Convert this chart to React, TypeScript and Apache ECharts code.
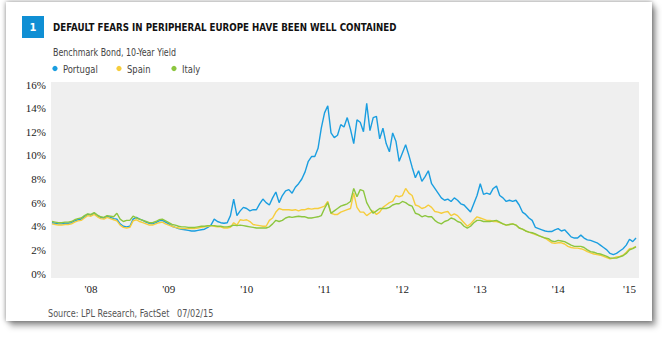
import React, { useEffect, useRef } from "react";
import * as echarts from "echarts";

// ---- data (semi-monthly readings, Jan 2008 .. Jul 2015) ----
const startYear = 2008;
const stepsPerYear = 24;

const portugal = [
  // 2008
  4.3, 4.25, 4.2, 4.2, 4.25, 4.25, 4.3, 4.45, 4.55, 4.6, 4.8, 5.0, 4.95, 5.1, 4.9, 4.75, 4.7, 4.85, 4.75, 4.65, 4.6, 4.2, 4.0, 3.95,
  // 2009
  4.0, 4.6, 4.75, 4.6, 4.5, 4.35, 4.25, 4.2, 4.3, 4.45, 4.5, 4.35, 4.2, 4.0, 3.9, 3.8, 3.75, 3.7, 3.65, 3.6, 3.6, 3.65, 3.7, 3.75,
  // 2010
  3.9, 4.1, 4.6, 4.4, 4.3, 4.25, 4.3, 4.9, 6.3, 4.9, 5.3, 5.6, 5.5, 5.3, 5.4, 5.4, 5.9, 6.3, 6.0, 5.8, 6.4, 6.9, 6.0, 6.6,
  // 2011
  7.0, 7.1, 6.8, 7.3, 7.6, 8.0, 8.6, 9.5, 9.9, 9.9, 10.6, 12.3, 13.6, 14.2, 11.9, 11.5, 11.7, 12.6, 12.4, 13.2, 12.2, 11.0, 13.0, 12.8,
  // 2012
  12.0, 14.4, 12.1, 13.2, 13.3, 11.4, 12.3, 11.0, 10.3, 11.9, 11.2, 9.5, 10.2, 10.9, 10.0, 9.0, 8.1, 8.7, 7.8, 8.2, 8.7, 7.6, 7.2, 6.8,
  // 2013
  6.4, 6.2, 6.3, 6.1, 6.4, 6.2, 5.9, 5.8, 5.5, 5.2, 5.9, 6.6, 7.6, 6.7, 6.8, 6.7, 7.2, 7.4, 6.6, 6.4, 6.1, 6.2, 6.1, 6.2,
  // 2014
  5.8, 5.2, 5.0, 4.7, 4.5, 3.9, 3.8, 3.7, 3.6, 3.55, 3.55, 3.7, 3.8, 3.6, 3.7, 3.4, 3.1, 3.0, 3.0, 3.25, 3.0, 2.85, 2.8, 2.7,
  // 2015
  2.6, 2.4, 2.2, 2.0, 1.7, 1.6, 1.7, 1.9, 2.1, 2.4, 2.9, 2.7, 3.0,
];

const spain = [
  4.2, 4.15, 4.1, 4.1, 4.15, 4.15, 4.2, 4.35, 4.45, 4.5, 4.7, 4.9, 4.85, 5.0, 4.8, 4.65, 4.6, 4.75, 4.65, 4.55, 4.45, 4.1, 3.9, 3.85,
  3.9, 4.45, 4.55, 4.4, 4.3, 4.2, 4.1, 4.1, 4.2, 4.3, 4.35, 4.2, 4.1, 4.0, 3.9, 3.85, 3.8, 3.8, 3.8, 3.8, 3.8, 3.85, 3.9, 3.95,
  4.0, 4.05, 4.0, 3.95, 3.95, 3.85, 3.85, 3.9, 4.3, 4.1, 4.55, 4.5, 4.55, 4.4, 4.15, 4.1, 4.05, 4.0, 4.0, 4.5, 4.7, 5.2, 5.5, 5.4,
  5.4, 5.4, 5.35, 5.4, 5.3, 5.4, 5.4, 5.5, 5.45, 5.5, 5.5, 5.6, 5.7, 6.1, 5.1, 5.0, 5.0, 5.2, 5.3, 5.4, 5.5, 6.8, 5.6, 5.2,
  5.2, 4.9, 5.1, 5.3, 5.0, 5.2, 5.6, 5.8, 6.0, 6.1, 6.6, 6.5, 6.6, 7.2, 6.8, 6.6, 5.8, 5.7, 5.5, 5.6, 5.8, 5.6, 5.25, 5.2,
  5.1, 5.2, 5.25, 4.9, 5.05, 4.9, 4.6, 4.3, 4.0, 4.2, 4.5, 4.8, 4.7, 4.6, 4.5, 4.5, 4.4, 4.4, 4.3, 4.2, 4.1, 4.15, 4.2, 4.1,
  3.85, 3.75, 3.6, 3.5, 3.4, 3.3, 3.2, 3.1, 3.0, 2.8, 2.6, 2.55, 2.6, 2.6, 2.5, 2.3, 2.2, 2.15, 2.15, 2.1, 2.0, 1.85, 1.75, 1.65,
  1.6, 1.55, 1.45, 1.35, 1.25, 1.3, 1.4, 1.45, 1.55, 1.8, 2.1, 2.15, 2.3,
];

const italy = [
  4.4, 4.35, 4.3, 4.3, 4.35, 4.35, 4.4, 4.55, 4.65, 4.7, 4.9, 5.05, 5.0, 5.15, 4.95, 4.8, 4.75, 4.9, 4.85, 4.8, 5.1, 4.6, 4.4, 4.5,
  4.5, 4.85, 4.7, 4.6, 4.5, 4.4, 4.3, 4.3, 4.4, 4.55, 4.6, 4.45, 4.3, 4.15, 4.1, 4.0, 3.95, 3.95, 3.9, 3.9, 3.9, 3.95, 4.0, 4.0,
  4.05, 4.05, 4.05, 4.0, 4.0, 3.95, 3.95, 4.0, 4.1, 4.05, 4.1, 4.05, 4.0, 3.95, 3.9, 3.85, 3.85, 3.85, 3.85, 3.95, 4.2, 4.5, 4.4, 4.5,
  4.7, 4.8, 4.75, 4.8, 4.85, 4.8, 4.8, 4.7, 4.7, 4.75, 4.8, 4.9, 5.5, 6.0, 5.1, 5.3, 5.5, 5.7, 5.8, 5.9, 6.1, 7.2, 6.5, 7.1,
  7.0, 6.0, 5.5, 5.1, 5.3, 5.5, 5.5, 5.5, 5.6, 5.8, 5.9, 5.9, 6.1, 6.0, 5.8, 5.7, 5.1, 5.0, 4.8, 4.9, 4.8, 4.8, 4.5, 4.3,
  4.2, 4.4, 4.5, 4.7, 4.6, 4.4, 4.3, 4.0, 3.85, 4.0, 4.3, 4.5, 4.5, 4.4, 4.4, 4.4, 4.45, 4.5, 4.35, 4.2, 4.1, 4.15, 4.2, 4.1,
  3.85, 3.75, 3.6, 3.5, 3.45, 3.35, 3.2, 3.1, 3.0, 2.95, 2.75, 2.7, 2.8, 2.75, 2.7, 2.55, 2.4, 2.3, 2.3, 2.3, 2.2, 2.0, 1.85, 1.8,
  1.7, 1.65, 1.55, 1.45, 1.3, 1.3, 1.3, 1.4, 1.5, 1.7, 2.0, 2.1, 2.25,
];

const seriesNames = ["Portugal", "Spain", "Italy"];
const seriesColors = ["#1a9ee0", "#f6cd3c", "#8cc63f"];
const yTicks = [0, 2, 4, 6, 8, 10, 12, 14, 16];

const title = "DEFAULT FEARS IN PERIPHERAL EUROPE HAVE BEEN WELL CONTAINED";
const subtitle = "Benchmark Bond, 10-Year Yield";
const source = "Source: LPL Research, FactSet   07/02/15";

const toPairs = (vals: number[]) => vals.map((v, i) => [startYear + i / stepsPerYear, v]);

const NARROW = "'DejaVu Sans Condensed', 'DejaVu Sans', sans-serif";
const SERIF = "'Liberation Serif', 'DejaVu Serif', serif";

export default function App() {
  const ref = useRef<HTMLDivElement>(null);

  useEffect(() => {
    if (!ref.current) return;
    const chart = echarts.init(ref.current, undefined, { renderer: "svg" });
    const data = [portugal, spain, italy];
    const order = [0, 2, 1];

    const legendX = [55, 119, 174];

    chart.setOption({
      animation: false,
      backgroundColor: "transparent",
      grid: { left: 52, right: 26, top: 84.5, bottom: 63.5, containLabel: false },
      xAxis: {
        type: "value",
        min: 2008,
        max: 2015.5,
        interval: 0.5,
        axisLine: { show: false },
        axisTick: { show: false },
        splitLine: { show: false },
        axisLabel: {
          margin: 10,
          showMaxLabel: true,
          showMinLabel: true,
          alignMaxLabel: "right",
          color: "#222",
          fontFamily: SERIF,
          fontSize: 11,
          formatter: (v: number) => (Math.abs((v % 1) - 0.5) < 1e-6 ? "'" + String(Math.floor(v)).slice(2) : ""),
        },
      },
      yAxis: {
        type: "value",
        min: yTicks[0],
        max: yTicks[yTicks.length - 1],
        interval: 2,
        axisLine: { show: false },
        axisTick: { show: false },
        splitLine: { show: false },
        axisLabel: {
          margin: 6,
          color: "#222",
          fontFamily: SERIF,
          fontSize: 11,
          formatter: "{value}%",
        },
      },
      graphic: [
        { type: "rect", z: -10, shape: { x: 51, y: 82, width: 588, height: 196 }, style: { fill: "#efefef" } },
        { type: "rect", shape: { x: 22, y: 16, width: 22, height: 22 }, style: { fill: "#0f8fd4" } },
        {
          type: "text", x: 33, y: 27.5,
          style: { text: "1", fill: "#fff", font: `bold 11px ${NARROW}`, textAlign: "center", textVerticalAlign: "middle" },
        },
        {
          type: "text", x: 53, y: 27, scaleX: 0.88,
          style: { text: title, fill: "#111", font: `bold 11px ${NARROW}`, textAlign: "left", textVerticalAlign: "middle" },
        },
        {
          type: "text", x: 53, y: 52, scaleX: 0.84,
          style: { text: subtitle, fill: "#444", font: `10.5px ${NARROW}`, textAlign: "left", textVerticalAlign: "middle" },
        },
        ...seriesNames.flatMap((name, i) => [
          { type: "circle", shape: { cx: legendX[i], cy: 68.5, r: 2.6 }, style: { fill: seriesColors[i] } },
          {
            type: "text", x: legendX[i] + 8, y: 69, scaleX: 0.85,
            style: { text: name, fill: "#444", font: `11px ${NARROW}`, textAlign: "left", textVerticalAlign: "middle" },
          },
        ]),
        {
          type: "text", x: 48, y: 313, scaleX: 0.9,
          style: { text: source, fill: "#555", font: `10px ${NARROW}`, textAlign: "left", textVerticalAlign: "middle" },
        },
      ],
      series: order.map((i) => ({
        name: seriesNames[i],
        type: "line",
        data: toPairs(data[i]),
        showSymbol: false,
        symbol: "none",
        lineStyle: { width: 1.4, color: seriesColors[i] },
        itemStyle: { color: seriesColors[i] },
        z: 2 + i,
      })),
    });

    return () => chart.dispose();
  }, []);

  return (
    <div style={{ position: "fixed", left: 0, top: 0, width: 662, height: 337, background: "#fff", overflow: "hidden" }}>
      <div
        style={{
          position: "absolute", left: 6, top: 2, width: 646, height: 319, background: "#fff",
          boxShadow: "0 0 5px rgba(0,0,0,0.45), 4px 5px 6px rgba(0,0,0,0.35)",
        }}
      />
      <div ref={ref} style={{ position: "absolute", left: 0, top: 0, width: 662, height: 337 }} />
    </div>
  );
}
